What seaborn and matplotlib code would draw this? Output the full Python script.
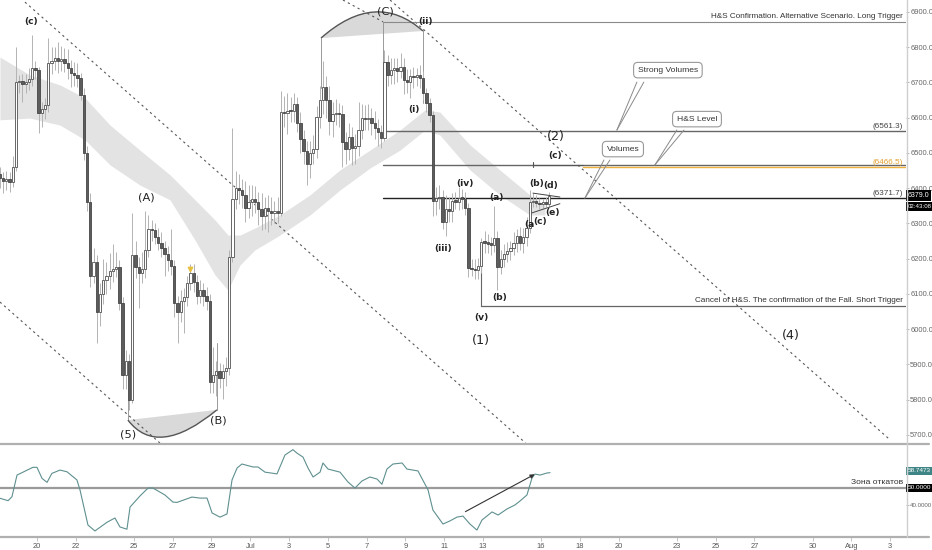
import matplotlib
matplotlib.use('Agg')
import matplotlib.pyplot as plt
from matplotlib.path import Path
from matplotlib.patches import PathPatch
from matplotlib.lines import Line2D
import pandas as pd
import seaborn as sns

sns.set_theme(style='white')
plt.rcParams['font.family'] = ['DejaVu Sans']
ARIAL = ['Liberation Sans', 'DejaVu Sans']

# 4h candles, x = days since Jun 18 00:00
open_first = 6440
closes = [
    6430, 6420, 6425, 6418, 6460, 6700,
    6705, 6695, 6700, 6710, 6740, 6735,
    6613, 6625, 6635, 6755,
    6760, 6770, 6762, 6768, 6755, 6740, 6728, 6720, 6712,
    6665, 6500, 6360, 6150, 6190, 6050,
    6100, 6140, 6150, 6165, 6172, 6175,
    6075, 5870, 5910, 5800, 6210,
    6175, 6160, 6170, 6225, 6285, 6280,
    6262, 6245, 6230, 6212, 6195, 6180,
    6075, 6050, 6080, 6092, 6130, 6160,
    6135, 6095, 6110, 6095, 6080, 5850,
    5870, 5880, 5862, 5880, 5890, 6205,
    6370, 6400, 6395, 6380, 6345, 6360,
    6370, 6360, 6340, 6320, 6345, 6335, 6330, 6335, 6330,
    6616, 6613, 6620, 6618, 6640, 6585, 6540, 6505, 6470, 6500, 6510,
    6602, 6650, 6687, 6650, 6590, 6610, 6613, 6610,
    6530, 6510, 6545, 6515, 6520, 6565, 6600, 6595, 6598, 6585, 6570, 6560, 6543,
    6758, 6720, 6735, 6740, 6732, 6745, 6707, 6700, 6718, 6715, 6720, 6713, 6670, 6642, 6608,
    6365, 6372, 6375, 6305, 6340, 6335, 6365, 6362, 6372, 6370, 6344,
    6174, 6170, 6168, 6178, 6248, 6245, 6242, 6240,
    6259, 6177, 6200, 6212, 6222, 6230, 6245, 6265, 6245, 6262, 6287,
    6361, 6365, 6358, 6355, 6360, 6356, 6379,
]
upper_wick = [
    20, 15, 25, 20, 30, 100,
    15, 20, 25, 30, 95, 20,
    10, 20, 20, 70,
    40, 30, 45, 35, 30, 40, 25, 30, 35,
    15, 20, 20, 25, 40, 20,
    30, 60, 40, 50, 70, 45,
    20, 15, 30, 20, 120,
    40, 30, 50, 110, 40, 25,
    20, 25, 30, 20, 25, 90,
    15, 20, 30, 25, 20, 25,
    25, 20, 30, 20, 25, 20,
    80, 30, 25, 20, 30, 20,
    200, 50, 40, 30, 40, 50,
    40, 35, 30, 45, 30, 35, 40, 30, 40,
    60, 45, 50, 40, 30, 20, 30, 25, 30, 35, 40,
    30, 40, 75, 30, 40, 35, 40, 30,
    25, 30, 40, 30, 35, 80, 40, 35, 40, 30, 35, 25, 20,
    35, 20, 35, 30, 30, 40, 25, 30, 20, 25, 20, 30, 20, 15, 15,
    10, 30, 35, 20, 40, 35, 20, 25, 30, 25, 20,
    15, 25, 30, 25, 10, 30, 25, 20,
    90, 20, 25, 30, 25, 20, 30, 20, 25, 25, 30,
    35, 20, 15, 15, 10, 15, 10,
]
lower_wick = [
    30, 35, 25, 30, 15, 10,
    30, 50, 25, 20, 20, 25,
    55, 40, 30, 20,
    30, 25, 35, 30, 25, 30, 40, 30, 25,
    15, 20, 25, 30, 20, 90,
    40, 30, 40, 35, 30, 25,
    20, 40, 40, 30, 10,
    30, 100, 30, 25, 20, 30,
    20, 20, 25, 60, 30, 25,
    40, 90, 30, 90, 25, 20,
    30, 25, 20, 30, 25, 30,
    30, 60, 30, 60, 40, 20,
    15, 30, 40, 35, 40, 30,
    40, 30, 45, 40, 35, 60, 35, 30, 30,
    10, 40, 60, 30, 30, 25, 40, 35, 60, 40, 30,
    25, 30, 40, 50, 40, 45, 30, 35,
    70, 40, 30, 50, 45, 30, 25, 30, 30, 35, 30, 40, 30,
    10, 30, 25, 40, 30, 20, 40, 30, 45, 30, 25, 30, 20, 25, 20,
    45, 40, 30, 20, 40, 30, 30, 20, 25, 30, 20,
    25, 20, 25, 25, 20, 30, 25, 30,
    20, 65, 20, 25, 20, 25, 20, 25, 20, 30, 25,
    15, 15, 10, 15, 10, 10, 10,
]

# grey moving-average ribbon
band_day = [0.09, 1.64, 3.19, 4.48, 5.77, 7.31, 8.86, 10.15, 11.18, 11.85, 12.47, 13.24,
            14.53, 16.08, 17.63, 19.17, 20.72, 22.01, 22.78, 24.33, 25.87, 27.42, 28.2]
band_top = [6772, 6721, 6693, 6656, 6579, 6508, 6438, 6367, 6310, 6267, 6267, 6287,
            6324, 6381, 6452, 6508, 6565, 6622, 6616, 6523, 6452, 6381, 6352]
band_bot = [6594, 6599, 6579, 6537, 6466, 6409, 6367, 6253, 6154, 6111, 6182, 6225,
            6267, 6324, 6395, 6457, 6508, 6565, 6551, 6452, 6381, 6324, 6324]

# RSI
rsi_day = [0.09, 0.51, 0.71, 0.97, 1.79, 2.00, 2.26, 2.52, 2.77, 3.19,
           3.55, 4.06, 4.22, 4.63, 4.99, 5.61, 6.02, 6.28, 6.64, 6.80,
           7.31, 7.73, 7.98, 8.60, 9.01, 9.22, 9.99, 10.41, 10.77, 11.03,
           11.44, 11.80, 12.06, 12.32, 12.57, 13.14, 13.40, 13.76, 14.38, 14.53,
           14.79, 15.20, 15.41, 15.72, 15.98, 16.24, 16.60, 16.75, 17.01, 17.63,
           18.04, 18.40, 18.76, 19.17, 19.54, 19.79, 20.05, 20.36, 20.83, 21.08,
           21.65, 22.17, 22.42, 22.94, 23.30, 23.66, 23.97, 24.33, 24.69, 24.95,
           25.47, 25.78, 26.24, 26.65, 26.91, 27.27, 27.53, 27.68, 27.94, 28.30, 28.46]
rsi_val = [43.9, 42.5, 44.8, 57.3, 61.8, 61.8, 55.4, 53.1, 58.3, 60.2,
           59.2, 54.5, 48.7, 28.4, 25.0, 30.0, 32.5, 27.3, 26.0, 38.8,
           45.2, 49.8, 49.8, 45.8, 41.7, 41.5, 44.6, 44.0, 44.0, 35.4,
           33.0, 34.8, 54.5, 61.4, 63.7, 62.0, 62.0, 59.0, 58.0, 62.0,
           68.9, 72.0, 70.0, 67.7, 61.4, 56.2, 59.0, 64.3, 60.8, 59.0,
           53.3, 49.8, 53.9, 56.2, 55.0, 52.0, 60.8, 63.7, 64.3, 60.8,
           59.7, 48.7, 37.1, 29.0, 30.8, 33.0, 33.6, 29.0, 25.5, 31.3,
           36.0, 34.2, 37.7, 40.0, 42.3, 45.8, 55.6, 57.9, 57.3, 58.5, 58.7]

tick_days = [2, 4, 7, 9, 11, 13, 15, 17, 19, 21, 23, 25, 28, 30, 32, 35, 37, 39, 42, 44, 46]
tick_labels = ['20', '22', '25', '27', '29', 'Jul', '3', '5', '7', '9', '11', '13',
               '16', '18', '20', '23', '25', '27', '30', 'Aug', '3']

long_trigger = 6872
hs_confirm = 6561.3
hs_level = 6466.5
volume_level = 6371.7
short_trigger = 6066
last_price = 6379.0
last_rsi = 58.7473

# ---- figure ----
fig = plt.figure(figsize=(9.32, 5.5), dpi=100)
W, H = 932, 550
ax = fig.add_axes([0, 1 - 443 / H, 906 / W, 443 / H])
ax2 = fig.add_axes([0, 1 - 537 / H, 906 / W, 92 / H], sharex=ax)
XMIN, XMAX = 0.093, 46.82
ax.set_xlim(XMIN, XMAX)
ax.set_ylim(5677, 6934)
ax2.set_ylim(21.5, 74.7)

ax.fill_between(band_day, band_bot, band_top, color='#e3e3e3', lw=0, zorder=1)

df = pd.DataFrame({'close': closes, 'up_w': upper_wick, 'lo_w': lower_wick})
df['open'] = [open_first] + closes[:-1]
df['day'] = (df.index + 0.5) / 6
df['top'] = df[['open', 'close']].max(axis=1)
df['bot'] = df[['open', 'close']].min(axis=1)
ax.vlines(df['day'], df['bot'] - df['lo_w'], df['top'] + df['up_w'],
          color='#b3b3b3', lw=0.7, zorder=3)
up = df[df['close'] >= df['open']]
dn = df[df['close'] < df['open']]
ax.bar(up['day'], (up['top'] - up['bot']).clip(lower=4), bottom=up['bot'], width=0.12,
       color='white', edgecolor='#505050', lw=0.6, zorder=4)
ax.bar(dn['day'], (dn['top'] - dn['bot']).clip(lower=4), bottom=dn['bot'], width=0.12,
       color='#5d5d5d', edgecolor='#454545', lw=0.6, zorder=4)
ax.scatter([9.89], [6172], marker='v', s=10, color='#e8c040', zorder=5)

# dotted channel lines
for (x0, y0), (x1, y1) in [((1.38, 6928), (27.2, 5677)), ((0.09, 6077), (8.34, 5677)),
                           ((20.21, 6934), (46.0, 5686)), ((17.78, 6934), (19.85, 6872))]:
    ax.plot([x0, x1], [y0, y1], ls=(0, (2, 3)), color='#555555', lw=0.8, zorder=2)

# horizontal levels
ax.plot([19.85, XMAX], [long_trigger] * 2, color='#8a8a8a', lw=0.8, zorder=2)
ax.plot([19.85, XMAX], [hs_confirm] * 2, color='#666666', lw=1.0, zorder=2)
ax.plot([19.85, XMAX], [hs_level] * 2, color='#666666', lw=1.0, zorder=2)
ax.plot([30.16, XMAX], [hs_level - 5] * 2, color='#f0b040', lw=1.0, zorder=2)
ax.plot([19.85, XMAX], [volume_level] * 2, color='#222222', lw=1.0, zorder=2)
ax.plot([24.9, XMAX], [short_trigger] * 2, color='#666666', lw=0.9, zorder=2)
ax.plot([24.9, 24.9], [6239, short_trigger], color='#666666', lw=0.8, zorder=2)
ax.plot([27.58, 30.16], [hs_level] * 2, color='#555555', lw=0.8, zorder=5)
ax.plot([27.58, 27.58], [hs_level - 7, hs_level + 7], color='#555555', lw=0.8, zorder=5)

# connector verticals
for xv, ya, yb in [(16.65, 6826, 6684), (19.85, 6872, 6543), (21.91, 6849, 6642),
                   (6.69, 5799, 5742), (11.28, 5961, 5771)]:
    ax.plot([xv, xv], [ya, yb], color='#9a9a9a', lw=0.7, zorder=2)

# arcs
for p0, c, p2 in [((16.65, 6826), (19.48, 6964), (21.91, 6846)),
                  ((6.69, 5742), (8.22, 5632), (11.28, 5771))]:
    fill = Path([p0, c, p2, p0], [Path.MOVETO, Path.CURVE3, Path.CURVE3, Path.LINETO])
    ax.add_patch(PathPatch(fill, fc='#d9d9d9', ec='none', zorder=1))
    arc = Path([p0, c, p2], [Path.MOVETO, Path.CURVE3, Path.CURVE3])
    ax.add_patch(PathPatch(arc, fc='none', ec='#555555', lw=1.0, zorder=3))

# triangle (e)
ax.plot([27.58, 28.97], [6386, 6375], color='#444444', lw=0.7, zorder=5)
ax.plot([27.53, 28.97], [6330, 6356], color='#444444', lw=0.7, zorder=5)

# wave labels
txt = '#222222'
small = [('(c)', 1.69, 6872), ('(ii)', 22.05, 6872), ('(i)', 21.44, 6622),
         ('(iii)', 22.94, 6230), ('(iv)', 24.07, 6412), ('(a)', 25.72, 6375),
         ('(b)', 27.75, 6412), ('(d)', 28.5, 6409), ('(e)', 28.61, 6330),
         ('(a', 27.4, 6296), ('(c)', 27.95, 6305), ('(b)', 25.88, 6091),
         ('(v)', 24.9, 6032), ('(c)', 28.72, 6494)]
for s, xd, yp in small:
    ax.text(xd, yp, s, fontsize=6.6, color=txt, ha='center', va='center',
            fontweight='bold', zorder=6)
big = [('(A)', 7.62, 6375), ('(5)', 6.69, 5700), ('(B)', 11.34, 5740), ('(C)', 19.95, 6900)]
for s, xd, yp in big:
    ax.text(xd, yp, s, fontsize=8.2, color=txt, ha='center', va='center', zorder=6)
for s, xd, yp in [('(1)', 24.9, 5969), ('(2)', 28.77, 6548), ('(4)', 40.89, 5981)]:
    ax.text(xd, yp, s, fontsize=9.2, color=txt, ha='center', va='center', zorder=6)

# right side level captions
cap = dict(ha='right', va='bottom', fontsize=5.9, family=ARIAL, zorder=6)
ax.text(46.66, long_trigger + 4, 'H&S Confirmation. Alternative Scenario. Long Trigger', color='#333333', **cap)
ax.text(46.66, hs_confirm + 4, '(6561.3)', color='#444444', **cap)
ax.text(46.66, hs_level - 4, '(6466.5)', color='#e0a030', **cap)
ax.text(46.66, volume_level + 4, '(6371.7)', color='#444444', **cap)
ax.text(46.66, short_trigger + 4, 'Cancel of H&S. The confirmation of the Fall. Short Trigger',
        color='#333333', **cap)

# callouts
box = dict(boxstyle='round,pad=0.5,rounding_size=0.5', fc='white', ec='#999999', lw=0.8)
for s, bx, by, base, tgt in [('Strong Volumes', 34.54, 6735, ((32.94, 6701), (33.3, 6701)), (31.91, 6565)),
                             ('H&S Level', 36.04, 6596, ((35.0, 6565), (35.37, 6565)), (33.87, 6466)),
                             ('Volumes', 32.22, 6511, ((31.24, 6480), (31.55, 6480)), (30.26, 6372))]:
    for b in base:
        ax.plot([b[0], tgt[0]], [b[1], tgt[1]], color='#8a8a8a', lw=0.7, zorder=6)
    ax.text(bx, by, s, fontsize=6.1, family=ARIAL, color='#333333', ha='center', va='center',
            bbox=box, zorder=7)

# RSI panel
sns.lineplot(x=rsi_day, y=rsi_val, ax=ax2, color='#5f8f8f', lw=0.8, zorder=3)
ax2.axhline(50, color='#9a9a9a', lw=1.6, zorder=2)
ax2.annotate('', xy=(27.79, 58.5), xytext=(23.97, 35.4),
             arrowprops=dict(arrowstyle='-|>', color='#333333', lw=0.8, mutation_scale=6), zorder=4)
ax2.text(46.66, 50.8, 'Зона откатов', fontsize=6.1, family=ARIAL, color='#333333',
         ha='right', va='bottom')

# axes styling
for a in (ax, ax2):
    for sp in a.spines.values():
        sp.set_visible(False)
    a.set_xlabel('')
    a.set_ylabel('')
    a.yaxis.tick_right()
ax.tick_params(axis='x', bottom=False, labelbottom=False)
ax.set_yticks(range(5700, 6901, 100))
ax.set_yticklabels([f'{v:.1f}' for v in range(5700, 6901, 100)], family=ARIAL)
ax.tick_params(axis='y', right=True, length=2, width=0.6, color='#aaaaaa', pad=1,
               labelsize=5.4, labelcolor='#666666')
ax2.set_yticks([40])
ax2.set_yticklabels(['40.0000'], family=ARIAL)
ax2.tick_params(axis='y', right=True, length=2, width=0.6, color='#aaaaaa', pad=0.5,
                labelsize=4.4, labelcolor='#666666')
ax2.set_xticks(tick_days)
ax2.set_xticklabels(tick_labels, family=ARIAL)
ax2.tick_params(axis='x', bottom=True, length=3, width=0.6, color='#bbbbbb', pad=1,
                labelsize=5.4, labelcolor='#555555')

# value flags on the price scale
flag = dict(color='white', ha='left', va='center', family=ARIAL, clip_on=False, zorder=10)
yt = ax.get_yaxis_transform()
ax.text(1.0015, last_price, f'{last_price:.1f}', transform=yt, fontsize=5.0,
        bbox=dict(boxstyle='square,pad=0.25', fc='black', ec='none'), **flag)
ax.text(1.0015, last_price - 31, '02:43:08', transform=yt, fontsize=4.4,
        bbox=dict(boxstyle='square,pad=0.25', fc='black', ec='none'), **flag)
yt2 = ax2.get_yaxis_transform()
ax2.text(1.0015, last_rsi + 1, f'{last_rsi:.4f}', transform=yt2, fontsize=4.6,
         bbox=dict(boxstyle='square,pad=0.25', fc='#3f8585', ec='none'), **flag)
ax2.text(1.0015, 50, '50.0000', transform=yt2, fontsize=4.6,
         bbox=dict(boxstyle='square,pad=0.25', fc='black', ec='none'), **flag)

# frame lines
for y in (443.5, 537):
    fig.add_artist(Line2D([0, 929 / W], [1 - y / H] * 2, color='#b0b0b0', lw=1.6))
fig.add_artist(Line2D([906.5 / W] * 2, [1 - 537 / H, 1], color='#cfcfcf', lw=1.0))

fig.savefig('out.png', dpi=100)
